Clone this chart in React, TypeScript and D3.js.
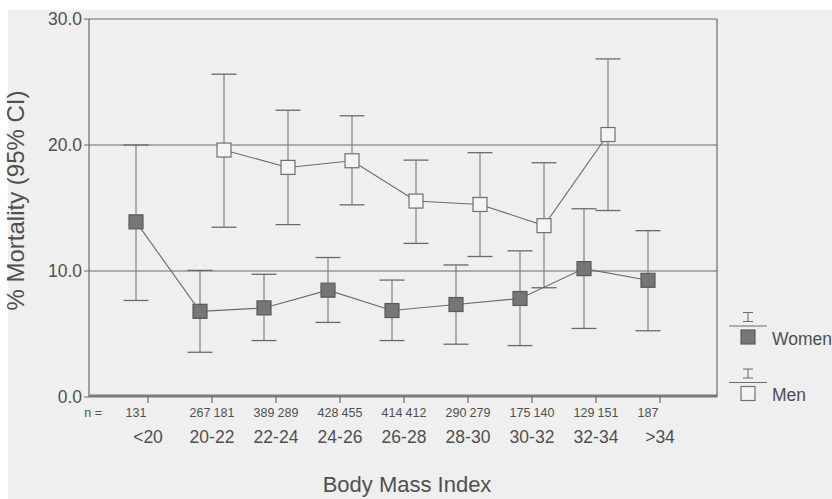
import React, { useEffect, useRef } from "react";
import * as d3 from "d3";

const categories = ["<20", "20-22", "22-24", "24-26", "26-28", "28-30", "30-32", "32-34", ">34"];

// women: mortality % and 95% CI
const womenCats = ["<20", "20-22", "22-24", "24-26", "26-28", "28-30", "30-32", "32-34", ">34"];
const womenValue = [13.9, 6.8, 7.07, 8.48, 6.86, 7.34, 7.82, 10.19, 9.26];
const womenLow = [7.66, 3.55, 4.48, 5.92, 4.48, 4.19, 4.08, 5.44, 5.26];
const womenHigh = [20.0, 10.05, 9.74, 11.07, 9.28, 10.48, 11.6, 14.94, 13.2];
const womenN = ["131", "267", "389", "428", "414", "290", "175", "129", "187"];

// men
const menCats = ["20-22", "22-24", "24-26", "26-28", "28-30", "30-32", "32-34"];
const menValue = [19.6, 18.22, 18.75, 15.55, 15.28, 13.6, 20.83];
const menLow = [13.47, 13.68, 15.25, 12.19, 11.15, 8.67, 14.8];
const menHigh = [25.62, 22.76, 22.32, 18.8, 19.39, 18.59, 26.83];
const menN = ["181", "289", "455", "412", "279", "140", "151"];

const yTicks = [0, 10, 20, 30];

const FONT = "'Liberation Sans', Arial, sans-serif";
const TEXT = "#505050";
const LINE = "#6a6a6a";

export default function App() {
  const svgRef = useRef<SVGSVGElement>(null);

  useEffect(() => {
    const width = 832;
    const height = 499;
    const left = 89;
    const right = 717;
    const top = 19;
    const bottom = 397;
    const off = 12;

    d3.select(svgRef.current).selectAll("*").remove();
    const svg = d3.select(svgRef.current).attr("width", width).attr("height", height);

    // paper background
    svg.append("rect").attr("width", width).attr("height", height).attr("fill", "#fff");
    svg.append("rect").attr("x", 8).attr("y", 10).attr("width", width - 8).attr("height", height - 10).attr("fill", "#efefef");

    const x = d3.scalePoint<string>().domain(categories).range([148, 660]);
    const y = d3.scaleLinear().domain([0, 30]).range([bottom, top]);

    // horizontal grid lines at the ticks
    svg
      .selectAll("line.grid")
      .data(yTicks.filter((t) => t > 0))
      .join("line")
      .attr("class", "grid")
      .attr("x1", left)
      .attr("x2", right)
      .attr("y1", (d) => y(d))
      .attr("y2", (d) => y(d))
      .attr("stroke", LINE)
      .attr("stroke-width", 1.2);

    // frame: left axis and right edge
    svg.append("line").attr("x1", left).attr("x2", left).attr("y1", y(30)).attr("y2", bottom).attr("stroke", LINE).attr("stroke-width", 1.2);
    svg.append("line").attr("x1", right).attr("x2", right).attr("y1", y(30)).attr("y2", bottom).attr("stroke", LINE).attr("stroke-width", 1.2);

    // y ticks and labels
    svg
      .selectAll("line.ytick")
      .data(yTicks)
      .join("line")
      .attr("class", "ytick")
      .attr("x1", left - 5)
      .attr("x2", left)
      .attr("y1", (d) => y(d))
      .attr("y2", (d) => y(d))
      .attr("stroke", LINE);
    svg
      .selectAll("text.ylab")
      .data(yTicks)
      .join("text")
      .attr("class", "ylab")
      .attr("x", left - 7)
      .attr("y", (d) => y(d))
      .attr("dy", "0.36em")
      .attr("text-anchor", "end")
      .style("font", `17.5px ${FONT}`)
      .style("fill", TEXT)
      .text((d) => d.toFixed(1));

    // thick bottom axis
    svg.append("line").attr("x1", left).attr("x2", right).attr("y1", bottom - 1).attr("y2", bottom - 1).attr("stroke", "#7a7a7a").attr("stroke-width", 3);
    svg
      .selectAll("line.xtick")
      .data(categories)
      .join("line")
      .attr("class", "xtick")
      .attr("x1", (d) => x(d)!)
      .attr("x2", (d) => x(d)!)
      .attr("y1", bottom)
      .attr("y2", bottom + 6)
      .attr("stroke", LINE)
      .attr("stroke-width", 1.2);

    // category labels
    svg
      .selectAll("text.xlab")
      .data(categories)
      .join("text")
      .attr("class", "xlab")
      .attr("x", (d) => x(d)!)
      .attr("y", 443)
      .attr("text-anchor", "middle")
      .style("font", `17.5px ${FONT}`)
      .style("fill", TEXT)
      .text((d) => d);

    // n labels
    svg.append("text").attr("x", 102).attr("y", 416.5).attr("text-anchor", "end").style("font", `12.5px ${FONT}`).style("fill", TEXT).text("n =");
    svg
      .selectAll("text.nw")
      .data(womenCats)
      .join("text")
      .attr("class", "nw")
      .attr("x", (d) => x(d)! - off)
      .attr("y", 416.5)
      .attr("text-anchor", "middle")
      .style("font", `12.5px ${FONT}`)
      .style("fill", TEXT)
      .text((d, i) => womenN[i]);
    svg
      .selectAll("text.nm")
      .data(menCats)
      .join("text")
      .attr("class", "nm")
      .attr("x", (d) => x(d)! + off)
      .attr("y", 416.5)
      .attr("text-anchor", "middle")
      .style("font", `12.5px ${FONT}`)
      .style("fill", TEXT)
      .text((d, i) => menN[i]);

    // axis titles
    svg.append("text").attr("x", 407).attr("y", 492).attr("text-anchor", "middle").style("font", `22px ${FONT}`).style("fill", TEXT).text("Body Mass Index");
    svg
      .append("text")
      .attr("transform", `translate(24, 200.5) rotate(-90)`)
      .attr("text-anchor", "middle")
      .style("font", `24px ${FONT}`)
      .style("fill", TEXT)
      .text("% Mortality (95% CI)");

    const drawSeries = (cats: string[], vals: number[], lo: number[], hi: number[], dx: number, filled: boolean) => {
      const pts = cats.map((c, i) => ({ cx: x(c)! + dx, v: vals[i], lo: lo[i], hi: hi[i] }));
      const g = svg.append("g");
      // error bars
      g.selectAll("line.stem")
        .data(pts)
        .join("line")
        .attr("x1", (d) => d.cx)
        .attr("x2", (d) => d.cx)
        .attr("y1", (d) => y(d.lo))
        .attr("y2", (d) => y(d.hi))
        .attr("stroke", LINE);
      ["lo", "hi"].forEach((k) => {
        g.selectAll(`line.cap${k}`)
          .data(pts)
          .join("line")
          .attr("x1", (d) => d.cx - 12.5)
          .attr("x2", (d) => d.cx + 12.5)
          .attr("y1", (d: any) => y(d[k]))
          .attr("y2", (d: any) => y(d[k]))
          .attr("stroke", LINE)
          .attr("stroke-width", 1.3);
      });
      // connecting line
      g.append("path")
        .datum(pts)
        .attr("d", d3.line<any>().x((d) => d.cx).y((d) => y(d.v)))
        .attr("fill", "none")
        .attr("stroke", LINE)
        .attr("stroke-width", 1.1);
      // markers
      g.selectAll("rect.mark")
        .data(pts)
        .join("rect")
        .attr("x", (d) => d.cx - 7)
        .attr("y", (d) => y(d.v) - 7)
        .attr("width", 14)
        .attr("height", 14)
        .attr("fill", filled ? "#767676" : "#f4f4f4")
        .attr("stroke", filled ? "#5a5a5a" : "#707070")
        .attr("stroke-width", 1.2);
    };

    drawSeries(menCats, menValue, menLow, menHigh, off, false);
    drawSeries(womenCats, womenValue, womenLow, womenHigh, -off, true);

    // legend
    const legend = [
      { name: "Women", filled: true, y: 326 },
      { name: "Men", filled: false, y: 382.5 },
    ];
    legend.forEach((l) => {
      const lg = svg.append("g");
      lg.append("line").attr("x1", 748).attr("x2", 748).attr("y1", l.y - 13.5).attr("y2", l.y - 4.5).attr("stroke", LINE);
      lg.append("line").attr("x1", 743).attr("x2", 753).attr("y1", l.y - 13.5).attr("y2", l.y - 13.5).attr("stroke", LINE);
      lg.append("line").attr("x1", 743).attr("x2", 753).attr("y1", l.y - 4.5).attr("y2", l.y - 4.5).attr("stroke", LINE);
      lg.append("line").attr("x1", 729).attr("x2", 767).attr("y1", l.y).attr("y2", l.y).attr("stroke", LINE);
      lg.append("rect")
        .attr("x", 741)
        .attr("y", l.y + 4)
        .attr("width", 14)
        .attr("height", 14)
        .attr("fill", l.filled ? "#767676" : "#f4f4f4")
        .attr("stroke", l.filled ? "#5a5a5a" : "#707070")
        .attr("stroke-width", 1.2);
      lg.append("text")
        .attr("x", 772)
        .attr("y", l.y + 18.5)
        .style("font", `17.5px ${FONT}`)
        .style("fill", TEXT)
        .text(l.name);
    });
  }, []);

  return (
    <div>
      <style>{"body{margin:0}"}</style>
      <svg ref={svgRef} style={{ display: "block" }} />
    </div>
  );
}
